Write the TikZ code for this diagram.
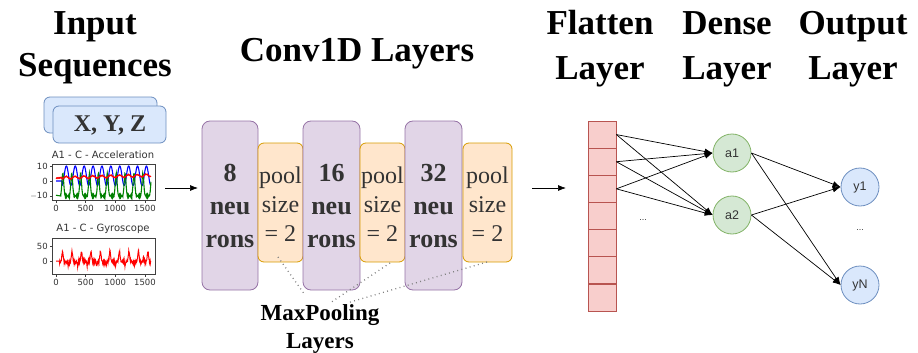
\documentclass[tikz,border=0pt]{standalone}
\usepackage{fontspec}
\setmainfont{Liberation Serif}
\newfontfamily\plotfont{DejaVu Sans}
\newfontfamily\drawfont{Liberation Sans}
\usetikzlibrary{arrows.meta}
\definecolor{purpfill}{HTML}{E1D5E7}
\definecolor{purpline}{HTML}{9673A6}
\definecolor{orfill}{HTML}{FFE6CC}
\definecolor{orline}{HTML}{D79B00}
\definecolor{redfill}{HTML}{F8CECC}
\definecolor{redline}{HTML}{B85450}
\definecolor{grfill}{HTML}{D5E8D4}
\definecolor{grline}{HTML}{82B366}
\definecolor{blfill}{HTML}{DAE8FC}
\definecolor{blline}{HTML}{6C8EBF}
\definecolor{txtgray}{HTML}{333333}
\definecolor{mplblue}{HTML}{0000FF}
\definecolor{mplgreen}{HTML}{008000}
\definecolor{mplred}{HTML}{FF0000}
\begin{document}
\begin{tikzpicture}[x=1pt,y=-1pt,
  title/.style={font=\bfseries\fontsize{35}{42}\selectfont, anchor=base, inner sep=0pt},
  convbox/.style={draw=purpline, fill=purpfill, rounded corners=8pt, line width=0.8pt},
  poolbox/.style={draw=orline, fill=orfill, rounded corners=6pt, line width=0.8pt},
  convtxt/.style={font=\bfseries\fontsize{26}{33}\selectfont, text=txtgray, align=center, inner sep=0pt},
  pooltxt/.style={font=\fontsize{24}{29}\selectfont, text=txtgray, align=center, inner sep=0pt},
  cell/.style={draw=redline, fill=redfill, line width=0.7pt, minimum width=28pt, minimum height=27.1pt, inner sep=0pt},
  dense/.style={circle, draw=grline, fill=grfill, line width=0.8pt, minimum size=38pt, inner sep=0pt, font=\drawfont\fontsize{12.5}{14}\selectfont, text=txtgray},
  outn/.style={circle, draw=blline, fill=blfill, line width=0.8pt, minimum size=38pt, inner sep=0pt, font=\drawfont\fontsize{12.5}{14}\selectfont, text=txtgray},
  conn/.style={-{Latex[length=8pt,width=6pt]}, line width=0.7pt},
  dotl/.style={gray, line width=1.3pt, dash pattern=on 0.9pt off 3.4pt},
  tick/.style={font=\plotfont\fontsize{8.5}{10}\selectfont, text=txtgray, inner sep=0pt},
  ptitle/.style={font=\plotfont\fontsize{10}{12}\selectfont, text=txtgray, inner sep=0pt},
  xyzbox/.style={draw=blline, fill=blfill, rounded corners=6pt, line width=0.8pt}
]
\useasboundingbox (0,0) rectangle (918,353);

% ---------- titles ----------
\node[title] (tin1) at (95,35) {Input};
\node[title] (tin2) at (95,77) {Sequences};
\node[title] (tconv) at (357,62) {Conv1D Layers};
\node[title] (tfl1) at (600,35) {Flatten};
\node[title] (tfl2) at (600,80) {Layer};
\node[title] (tde1) at (727,35) {Dense};
\node[title] (tde2) at (727,80) {Layer};
\node[title] (tou1) at (853,35) {Output};
\node[title] (tou2) at (853,80) {Layer};

% ---------- XYZ stacked boxes ----------
\draw[xyzbox] (44,97) rectangle (157,133);
\draw[xyzbox] (53,106) rectangle (166,143);
\node[font=\bfseries\fontsize{24}{28}\selectfont, text=txtgray, inner sep=0pt] (xyz) at (110,125) {X, Y, Z};

% ---------- Acceleration plot ----------
\node[ptitle] (pt1) at (103,155) {A1 - C - Acceleration};
\begin{scope}
  \clip (52,164) rectangle (155,200);
  \begin{scope}[shift={(56,181)}, x=0.0593pt, y=1.5pt]
    \draw[mplblue, line width=1.1pt] (0,0) -- (100,0) -- plot[domain=100:1600, samples=300, smooth] (\x,{3.5-6.5*cos((\x-100)*2.4)});
    \draw[mplgreen, line width=1.1pt] (0,-9.5) -- (80,-10) -- plot[domain=80:1600, samples=400] (\x,{-10+15*exp(-((mod(\x-80,150)-35)^2)/450)+0.4*sin(mod(\x,7.2)*50)});
    \draw[mplred, line width=1.1pt] plot[domain=0:1600, samples=200] (\x,{2+\x/900+0.8*sin(\x*2.4+40)*(\x>100)+0.3*sin(mod(\x,11.61)*31)});
  \end{scope}
\end{scope}
\draw[black!75, line width=0.5pt] (52,164) rectangle (155,200);
\foreach \v/\lab/\nm in {10/10/a, 0/0/b, -10/{$-$10}/c} {
  \draw[black!75, line width=0.5pt] (52,181-1.5*\v) -- (49.5,181-1.5*\v);
  \node[tick, anchor=east] (ay\nm) at (48,181-1.5*\v) {\lab};
}
\foreach \d/\nm in {0/a,500/b,1000/c,1500/d} {
  \draw[black!75, line width=0.5pt] (56+0.0593*\d,200) -- (56+0.0593*\d,202.5);
  \node[tick, anchor=north] (ax\nm) at (56+0.0593*\d,205) {\d};
}

% ---------- Gyroscope plot ----------
\node[ptitle] (pt2) at (103,229) {A1 - C - Gyroscope};
\begin{scope}
  \clip (52,238) rectangle (155,274);
  \begin{scope}[shift={(56,261)}, x=0.0593pt, y=0.3pt]
    \draw[mplred, line width=1pt] plot[domain=0:1600, samples=400] (\x,{(\x>60)*(-3+34*exp(-((mod(\x+1410,160)-80)^2)/260)+2.5*sin(mod(\x,7.66)*47)+2*sin(mod(\x,3.186)*113)-14*exp(-(min(abs(mod(\x+1410,160)-15),40)^2)/50)) + 22*exp(-(min(abs(\x-1478),40)^2)/120)});
  \end{scope}
\end{scope}
\draw[black!75, line width=0.5pt] (52,238) rectangle (155,274);
\foreach \v/\nm in {50/a,0/b} {
  \draw[black!75, line width=0.5pt] (52,261-0.3*\v) -- (49.5,261-0.3*\v);
  \node[tick, anchor=east] (gy\nm) at (48,261-0.3*\v) {\v};
}
\foreach \d/\nm in {0/a,500/b,1000/c,1500/d} {
  \draw[black!75, line width=0.5pt] (56+0.0593*\d,274) -- (56+0.0593*\d,276.5);
  \node[tick, anchor=north] (gx\nm) at (56+0.0593*\d,279) {\d};
}

% ---------- arrow into conv ----------
\coordinate (ain) at (165,188);
\coordinate (aout) at (198,188);
\draw[conn] (ain) -- (aout);

% ---------- Conv / pool boxes ----------
\draw[convbox] (202,121) rectangle (258,290);
\draw[poolbox] (258,143) rectangle (303,262);
\draw[convbox] (303,121) rectangle (360,290);
\draw[poolbox] (360,143) rectangle (405,262);
\draw[convbox] (405,121) rectangle (462,290);
\draw[poolbox] (463,143) rectangle (512,262);

\node[convtxt] (c1) at (230,206) {8\\neu\\rons};
\node[convtxt] (c2) at (331.5,206) {16\\neu\\rons};
\node[convtxt] (c3) at (433.5,206) {32\\neu\\rons};
\node[pooltxt] (p1) at (280.5,204) {pool\\size\\= 2};
\node[pooltxt] (p2) at (382.5,204) {pool\\size\\= 2};
\node[pooltxt] (p3) at (487.5,204) {pool\\size\\= 2};

% ---------- MaxPooling label and dotted lines ----------
\node[font=\bfseries\fontsize{23}{28}\selectfont, align=center, inner sep=0pt] (mp) at (320,329) {MaxPooling\\Layers};
\coordinate (d1) at (278,257);
\coordinate (d2) at (390,263);
\coordinate (d3) at (487,262);
\coordinate (m1) at (305,295);
\coordinate (m2) at (330,303);
\coordinate (m3) at (347,303);
\draw[dotl] (d1) -- (m1);
\draw[dotl] (d2) -- (m2);
\draw[dotl] (d3) -- (m3);

% ---------- arrow into flatten ----------
\coordinate (fin) at (532,188);
\coordinate (fout) at (566,188);
\draw[conn] (fin) -- (fout);

% ---------- flatten cells ----------
\foreach \i in {1,...,7} {
  \node[cell] (f\i) at (602,{121+27.14*(\i-0.5)}) {};
}
\node[font=\drawfont\fontsize{9}{10}\selectfont, text=txtgray] (fdots) at (643,220) {...};

% ---------- dense and output ----------
\node[dense] (a1) at (732,153) {a1};
\node[dense] (a2) at (732,215) {a2};
\node[outn] (y1) at (860,187) {y1};
\node[outn] (yN) at (860,285) {yN};
\node[font=\drawfont\fontsize{9}{10}\selectfont, text=txtgray] (odots) at (860,230) {...};

\foreach \i in {1,2,3} {
  \draw[conn] (f\i.east) -- (a1.west);
  \draw[conn] (f\i.east) -- (a2.west);
}
\draw[conn] (a1.east) -- (y1.west);
\draw[conn] (a1.east) -- (yN.west);
\draw[conn] (a2.east) -- (y1.west);
\draw[conn] (a2.east) -- (yN.west);
\end{tikzpicture}
\end{document}
